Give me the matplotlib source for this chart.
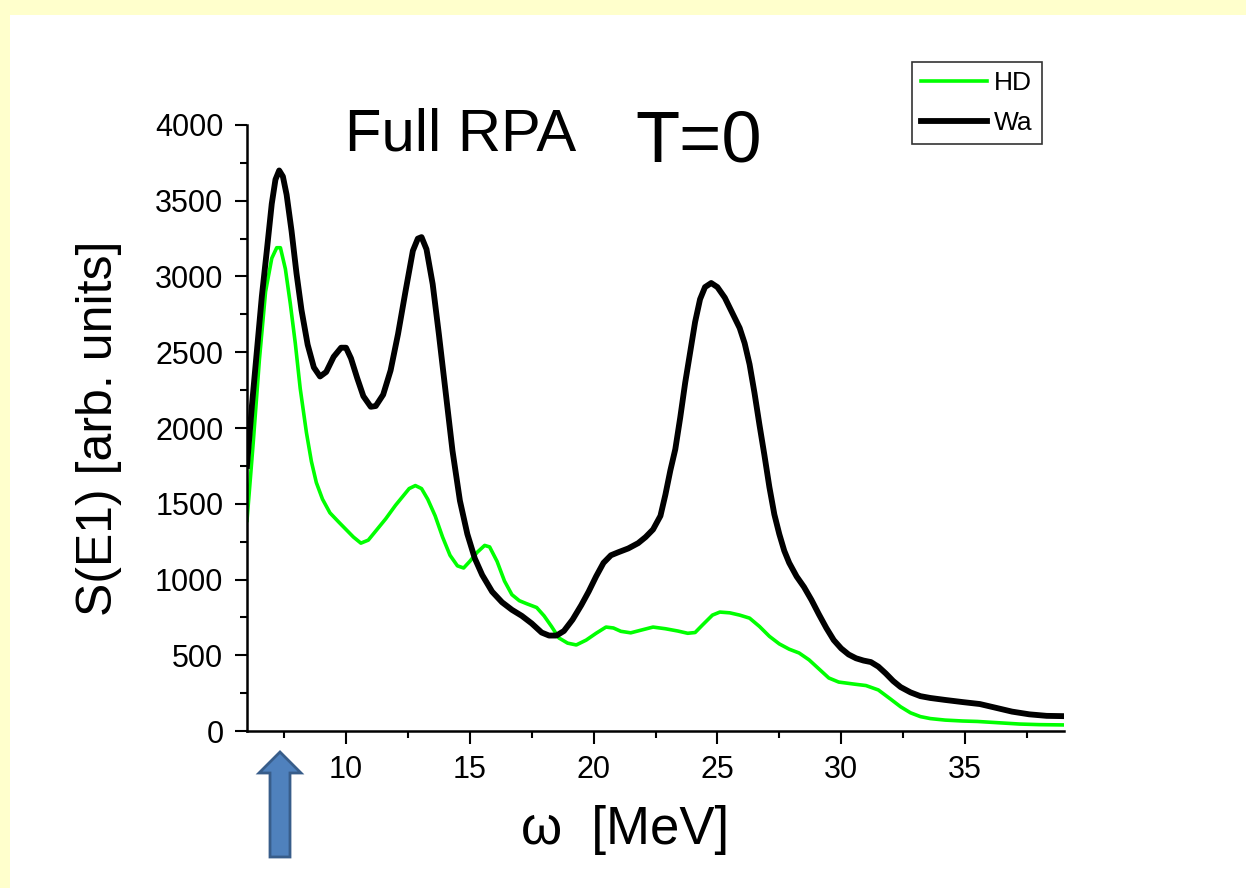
import numpy as np
import matplotlib
matplotlib.use("Agg")
import matplotlib.pyplot as plt
from matplotlib.patches import Rectangle, FancyArrow
from matplotlib.ticker import MultipleLocator

plt.rcParams['font.family'] = ['Liberation Sans', 'DejaVu Sans']

# HD curve (green)
hd_w = [6.0, 6.25, 6.5, 6.75, 7.0, 7.2, 7.35, 7.55, 7.75, 7.95, 8.15, 8.4, 8.6, 8.8, 9.05,
        9.35, 9.7, 10.0, 10.3, 10.6, 10.9, 11.2, 11.6, 12.0, 12.3, 12.55, 12.8, 13.05, 13.3,
        13.6, 13.9, 14.2, 14.5, 14.75, 15.0, 15.3, 15.6, 15.8, 16.1, 16.4, 16.7, 17.0, 17.3,
        17.7, 18.0, 18.3, 18.6, 18.95, 19.3, 19.7, 20.1, 20.5, 20.8, 21.1, 21.5, 21.9, 22.4,
        22.9, 23.4, 23.8, 24.1, 24.4, 24.8, 25.1, 25.5, 25.9, 26.3, 26.7, 27.1, 27.5, 27.9,
        28.3, 28.7, 29.1, 29.5, 29.9, 30.5, 31.0, 31.5, 32.0, 32.4, 32.8, 33.2, 33.6, 34.2,
        34.9, 35.5, 36.3, 37.2, 38.0, 39.0]
hd_s = [1390, 1900, 2450, 2900, 3120, 3190, 3190, 3050, 2820, 2560, 2260, 1970, 1780, 1640, 1530,
        1440, 1380, 1330, 1280, 1240, 1260, 1320, 1400, 1490, 1550, 1600, 1620, 1600, 1530,
        1420, 1280, 1160, 1090, 1076, 1120, 1180, 1225, 1215, 1120, 990, 900, 860, 840,
        815, 760, 690, 614, 580, 568, 600, 645, 686, 680, 658, 648, 665, 686,
        675, 660, 645, 650, 700, 765, 785, 780, 765, 745, 690, 625, 575, 540,
        515, 470, 410, 350, 323, 310, 300, 271, 210, 160, 120, 95, 82, 72,
        66, 63, 55, 46, 42, 40]

# Wa curve (black)
wa_w = [6.0, 6.2, 6.4, 6.6, 6.8, 7.0, 7.15, 7.3, 7.45, 7.6, 7.8, 8.0, 8.2, 8.45, 8.7, 8.95,
        9.2, 9.5, 9.8, 10.0, 10.2, 10.45, 10.7, 11.0, 11.2, 11.5, 11.8, 12.1, 12.4, 12.7,
        12.9, 13.05, 13.25, 13.5, 13.75, 14.0, 14.3, 14.6, 14.9, 15.2, 15.5, 15.9, 16.3, 16.7,
        17.1, 17.5, 17.9, 18.2, 18.5, 18.8, 19.15, 19.5, 19.8, 20.1, 20.4, 20.7, 21.0, 21.4,
        21.8, 22.1, 22.4, 22.7, 22.9, 23.1, 23.3, 23.5, 23.7, 23.9, 24.1, 24.3, 24.5, 24.75,
        25.0, 25.3, 25.6, 25.9, 26.1, 26.3, 26.5, 26.7, 26.9, 27.1, 27.3, 27.5, 27.7, 27.9,
        28.2, 28.5, 28.8, 29.1, 29.4, 29.7, 30.0, 30.3, 30.6, 30.9, 31.2, 31.5, 31.8, 32.1,
        32.4, 32.8, 33.2, 33.6, 34.2, 34.9, 35.6, 36.2, 36.9, 37.6, 38.3, 39.0]
wa_s = [1750, 2150, 2510, 2870, 3170, 3480, 3640, 3700, 3660, 3540, 3300, 3020, 2780, 2550, 2400, 2340,
        2370, 2470, 2530, 2530, 2460, 2330, 2210, 2140, 2145, 2220, 2380, 2620, 2900, 3170,
        3250, 3260, 3180, 2950, 2620, 2270, 1850, 1520, 1300, 1140, 1030, 920, 850, 800,
        760, 710, 650, 630, 630, 660, 735, 830, 920, 1020, 1110, 1160, 1180, 1205,
        1240, 1280, 1330, 1420, 1560, 1720, 1860, 2070, 2300, 2500, 2700, 2850, 2930, 2957,
        2930, 2860, 2760, 2660, 2560, 2420, 2230, 2020, 1820, 1610, 1430, 1300, 1190, 1110,
        1020, 950, 865, 770, 680, 600, 545, 505, 480, 465, 455, 425, 380, 330,
        290, 255, 230, 218, 205, 191, 178, 155, 128, 110, 100, 98]

fig = plt.figure(figsize=(12.46, 8.88), dpi=100)
fig.patch.set_facecolor('white')
# yellow slide border on the top and left edges
fig.patches.append(Rectangle((0, 0), 10 / 1246, 1, transform=fig.transFigure,
                             facecolor='#FFFFCC', edgecolor='none', zorder=-1))
fig.patches.append(Rectangle((0, (888 - 15) / 888), 1, 15 / 888, transform=fig.transFigure,
                             facecolor='#FFFFCC', edgecolor='none', zorder=-1))

ax = fig.add_axes([247 / 1246, (888 - 731) / 888, (1064 - 247) / 1246, (731 - 125) / 888])
ax.set_facecolor('none')

ax.plot(hd_w, hd_s, color='#00FF00', linewidth=2.6, label='HD', solid_joinstyle='round')
ax.plot(wa_w, wa_s, color='black', linewidth=4.2, label='Wa', solid_joinstyle='round')

ax.set_xlim(6, 39)
ax.set_ylim(0, 4000)
ax.xaxis.set_major_locator(MultipleLocator(5))
ax.xaxis.set_minor_locator(MultipleLocator(2.5))
ax.yaxis.set_major_locator(MultipleLocator(500))
ax.yaxis.set_minor_locator(MultipleLocator(250))
ax.set_xticks([10, 15, 20, 25, 30, 35])

for s in ['top', 'right']:
    ax.spines[s].set_visible(False)
for s in ['left', 'bottom']:
    ax.spines[s].set_linewidth(1.8)
ax.tick_params(which='major', direction='out', length=9, width=1.5, labelsize=22, pad=8)
ax.tick_params(which='minor', direction='out', length=5, width=1.5)

ax.set_xlabel('\u03c9  [MeV]', fontsize=38)
ax.xaxis.set_label_coords((625 - 247) / 817, -0.122)
ax.set_ylabel('S(E1) [arb. units]', fontsize=36, labelpad=24)

ax.text(0.12, 0.958, 'Full RPA', transform=ax.transAxes, fontsize=43, ha='left', va='baseline')
ax.text(0.475, 0.94, 'T=0', transform=ax.transAxes, fontsize=52, ha='left', va='baseline')

leg = ax.legend(loc='upper left', bbox_to_anchor=((912 - 247) / 817, (731 - 62) / 606),
                frameon=True, fancybox=False, fontsize=19, handlelength=2.5,
                borderpad=0.35, labelspacing=0.6, handletextpad=0.25, borderaxespad=0)
leg.get_frame().set_edgecolor('black')
leg.get_frame().set_linewidth(1.2)

# blue arrow below the axis
arrow = FancyArrow(280 / 1246, (888 - 857) / 888, 0, (857 - 752) / 888,
                   width=20 / 1246, head_width=42 / 1246, head_length=21 / 888,
                   length_includes_head=True, transform=fig.transFigure,
                   facecolor='#4F81BD', edgecolor='#385D8A', linewidth=2)
fig.patches.append(arrow)

fig.savefig('out.png', dpi=100, facecolor=fig.get_facecolor())
